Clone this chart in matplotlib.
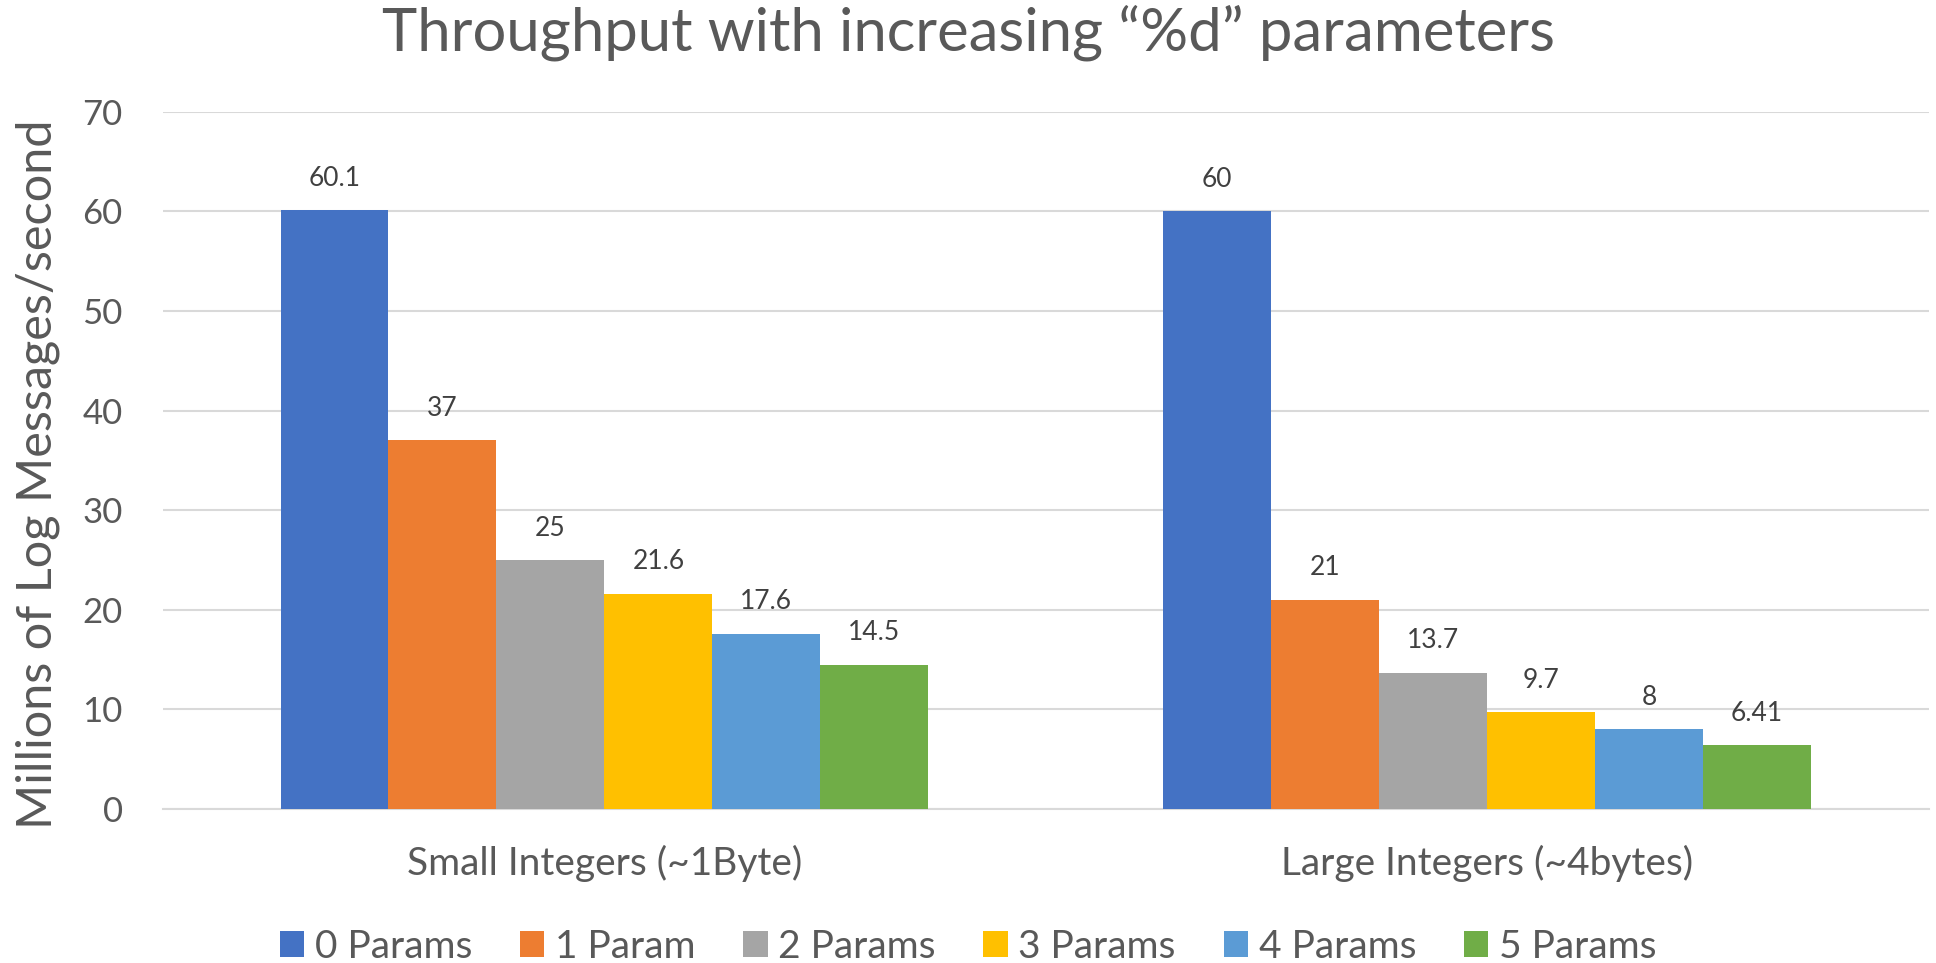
import numpy as np
import matplotlib as mat
from matplotlib import pyplot as plt

mat.rcParams["font.family"] = ["Lato", "DejaVu Sans"]

categories = ["Small Integers (~1Byte)", "Large Integers (~4bytes)"]
series_names = ["0 Params", "1 Param", "2 Params", "3 Params", "4 Params", "5 Params"]
small_ints = [60.1, 37, 25, 21.6, 17.6, 14.5]
large_ints = [60, 21, 13.7, 9.7, 8, 6.41]
colors = ["#4472C4", "#ED7D31", "#A5A5A5", "#FFC000", "#5B9BD5", "#70AD47"]

text_col = "#595959"

fig = plt.figure(figsize=(19.36, 9.63), dpi=100)
ax = fig.add_axes([0.0842, 0.160, 0.912, 0.7238])

x = np.arange(len(categories))
width = 0.1223
for i, name in enumerate(series_names):
    vals = [small_ints[i], large_ints[i]]
    pos = x + (i - 2.5) * width
    bars = ax.bar(pos, vals, width, color=colors[i], label=name, zorder=3)
    for b, v in zip(bars, vals):
        ax.annotate(f"{v:g}", (b.get_x() + b.get_width() / 2, v),
                    xytext=(0, 14), textcoords="offset points",
                    ha="center", va="bottom", fontsize=19, color="#404040")

ax.set_xlim(-0.5, 1.5)
ax.set_ylim(0, 70)
ax.set_yticks(range(0, 71, 10))
ax.grid(axis="y", color="#D9D9D9", linewidth=1.5, zorder=0)
for s in ["top", "right", "left"]:
    ax.spines[s].set_visible(False)
ax.spines["bottom"].set_color("#D9D9D9")
ax.spines["bottom"].set_linewidth(1.5)
ax.tick_params(axis="both", length=0, colors=text_col)
ax.tick_params(axis="y", pad=29, labelsize=25)
ax.tick_params(axis="x", pad=26, labelsize=28)
ax.set_xticks(x)
ax.set_xticklabels(categories)

ax.set_ylabel("Millions of Log Messages/second", fontsize=35, color=text_col, labelpad=16, y=0.48)
fig.suptitle("Throughput with increasing \u201c%d\u201d parameters", fontsize=43, color=text_col, y=0.995)

fig.legend(*ax.get_legend_handles_labels(), loc="center", bbox_to_anchor=(0.5, 0.017), ncol=6,
           frameon=False, fontsize=28, labelcolor=text_col, handlelength=0.63, handleheight=0.65,
           handletextpad=0.27, columnspacing=1.23)

fig.savefig("out.png", dpi=100)
